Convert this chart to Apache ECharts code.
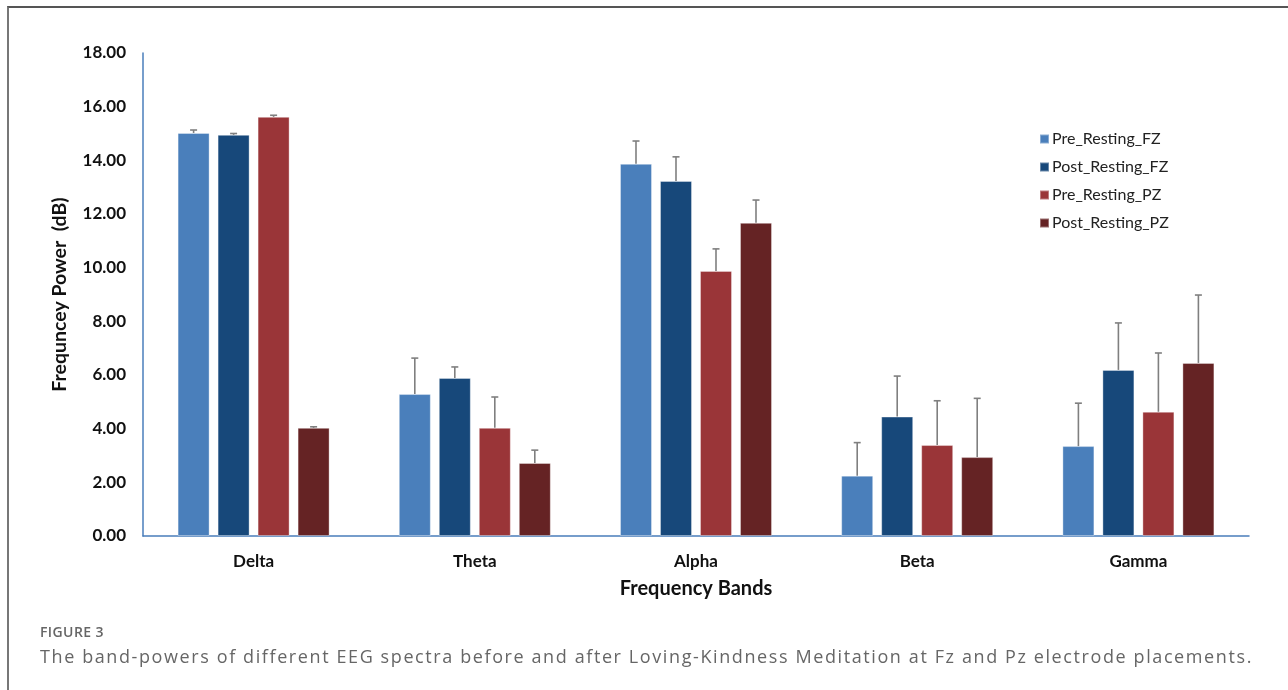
<!DOCTYPE html>
<html>
<head>
<meta charset="utf-8">
<script src="https://cdn.jsdelivr.net/npm/echarts@6/dist/echarts.min.js"></script>
<style>
html,body{margin:0;padding:0;background:#fff;}
#frame{position:absolute;left:7px;top:6px;width:1281px;height:684px;border-top:2px solid #555;border-left:2px solid #777;box-sizing:border-box;}
#chart{position:absolute;left:0;top:0;width:1288px;height:690px;}
#fig{position:absolute;left:40px;top:624px;line-height:16px;font-family:"Open Sans",Lato,sans-serif;font-size:14px;color:#666;font-weight:600;letter-spacing:0.4px;}
#cap{position:absolute;left:40px;top:645px;line-height:22px;font-family:"Open Sans",Lato,sans-serif;font-size:18px;color:#666;white-space:nowrap;letter-spacing:1.6px;}
</style>
</head>
<body>
<div id="frame"></div>
<div id="chart"></div>
<div id="fig">FIGURE 3</div>
<div id="cap">The band-powers of different EEG spectra before and after Loving-Kindness Meditation at Fz and Pz electrode placements.</div>
<script>
// 数据
var bands=['Delta','Theta','Alpha','Beta','Gamma'];
var seriesNames=['Pre_Resting_FZ','Post_Resting_FZ','Pre_Resting_PZ','Post_Resting_PZ'];
var colors=['#4A7FBB','#17487A','#9A3538','#652324'];
var preFz=[15.02,5.29,13.87,2.25,3.35];
var postFz=[14.95,5.89,13.23,4.45,6.19];
var prePz=[15.62,4.03,9.88,3.39,4.63];
var postPz=[4.03,2.72,11.67,2.94,6.45];
// 误差线上端
var preFzErr=[15.13,6.63,14.72,3.48,4.95];
var postFzErr=[15.00,6.30,14.13,5.96,7.94];
var prePzErr=[15.68,5.18,10.70,5.04,6.82];
var postPzErr=[4.07,3.20,12.52,5.13,8.98];
var yTicks=[0,2,4,6,8,10,12,14,16,18];

var values=[preFz,postFz,prePz,postPz];
var errs=[preFzErr,postFzErr,prePzErr,postPzErr];

var chart=echarts.init(document.getElementById('chart'));
var barW=32,gap=8;
var font='Lato,"Open Sans",sans-serif';

function errSeries(idx){
	var offset=(idx-1.5)*(barW+gap);
	var data=[];
	for(var i=0;i<bands.length;i++){
		data.push([i,values[idx][i],errs[idx][i]]);
	}
	return {
		type:'custom',
		name:seriesNames[idx]+'_err',
		z:5,
		silent:true,
		data:data,
		encode:{x:0,y:[1,2]},
		renderItem:function(params,api){
			var lo=api.coord([api.value(0),api.value(1)]);
			var hi=api.coord([api.value(0),api.value(2)]);
			var x=lo[0]+offset;
			var style={stroke:'#7f7f7f',lineWidth:1.6};
			return {
				type:'group',
				children:[
					{type:'line',shape:{x1:x,y1:lo[1],x2:x,y2:hi[1]},style:style},
					{type:'line',shape:{x1:x-3.5,y1:hi[1],x2:x+3.5,y2:hi[1]},style:style}
				]
			};
		}
	};
}

var option={
	animation:false,
	textStyle:{fontFamily:font},
	grid:{left:143,right:39,top:53,bottom:154},
	legend:{
		data:seriesNames,
		orient:'vertical',
		left:1034,
		top:126,
		icon:'rect',
		itemWidth:9,
		itemHeight:9,
		itemGap:12,
		textStyle:{fontFamily:font,fontSize:16,color:'#222',padding:[0,0,0,-2]}
	},
	xAxis:{
		type:'category',
		data:bands,
		name:'Frequency Bands',
		nameLocation:'middle',
		nameGap:43,
		nameTextStyle:{fontFamily:font,fontWeight:'bold',fontSize:20,color:'#111'},
		axisLine:{lineStyle:{color:'#4A7EBB',width:1.5}},
		axisTick:{show:false},
		axisLabel:{fontFamily:font,fontWeight:'bold',fontSize:17,color:'#111',margin:17}
	},
	yAxis:{
		type:'value',
		min:yTicks[0],
		max:yTicks[yTicks.length-1],
		interval:2,
		name:'Frequncey Power  (dB)',
		nameLocation:'middle',
		nameGap:73,
		nameTextStyle:{fontFamily:font,fontWeight:'bold',fontSize:19.5,color:'#111'},
		axisLine:{show:true,lineStyle:{color:'#4A7EBB',width:1.5}},
		axisTick:{show:false},
		splitLine:{show:false},
		axisLabel:{fontFamily:font,fontWeight:'bold',fontSize:17,color:'#111',margin:17,
			formatter:function(v){return v.toFixed(2);}}
	},
	series:[]
};

for(var s=0;s<seriesNames.length;s++){
	option.series.push({
		name:seriesNames[s],
		type:'bar',
		barWidth:barW,
		barGap:'25%',
		data:values[s],
		itemStyle:{color:colors[s],borderColor:'rgba(255,255,255,0.35)',borderWidth:1}
	});
}
for(var s=0;s<seriesNames.length;s++){
	option.series.push(errSeries(s));
}
chart.setOption(option,true);
</script>
</body>
</html>
